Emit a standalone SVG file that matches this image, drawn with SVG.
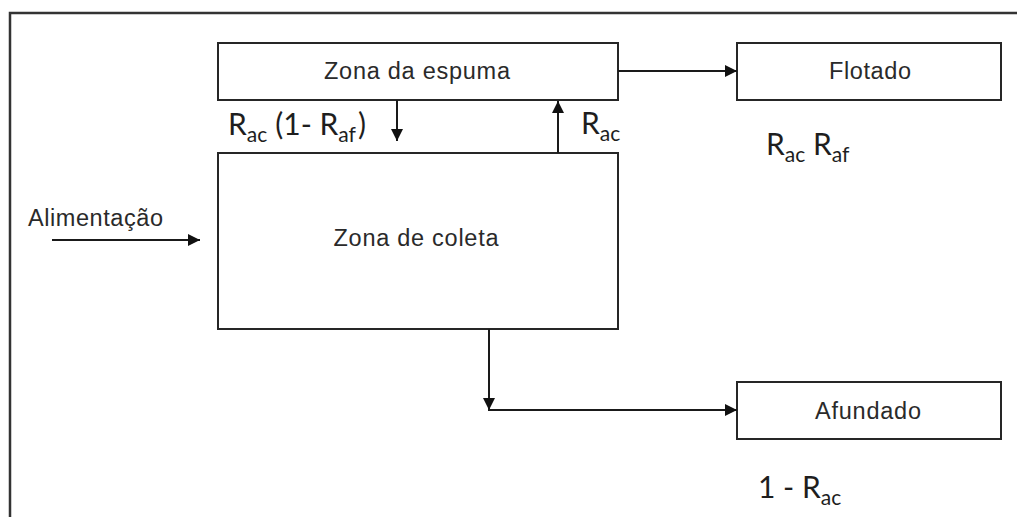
<svg xmlns="http://www.w3.org/2000/svg" width="1017" height="517" viewBox="0 0 1017 517">
  <defs>
    <style>
      .box { fill: #ffffff; stroke: #262626; stroke-width: 2; }
      .frame { fill: none; stroke: #333333; stroke-width: 2.5; }
      .wire { fill: none; stroke: #1a1a1a; stroke-width: 2; }
      .lbl { font-family: "Liberation Sans", Arial, sans-serif; font-size: 23.5px; fill: #2a2a2a; }
      .mid { text-anchor: middle; }
      .eq { font-family: Lato, "Liberation Sans", sans-serif; font-size: 30px; fill: #1e1e1e; }
      .sub { font-size: 21px; }
    </style>
    <marker id="head" viewBox="0 0 12 12" refX="12" refY="6" markerWidth="12" markerHeight="12" markerUnits="userSpaceOnUse" orient="auto">
      <path d="M0,0 L12,6 L0,12 Z" fill="#111111"/>
    </marker>
  </defs>

  <rect width="1017" height="517" fill="#ffffff"/>

  <!-- outer frame, open at right and bottom -->
  <path class="frame" d="M10,517 V13 H1017"/>

  <g id="zona-espuma">
    <rect class="box" x="218" y="43" width="400" height="57"/>
    <text class="lbl mid" x="417" y="79" textLength="186" lengthAdjust="spacing">Zona da espuma</text>
  </g>

  <g id="zona-coleta">
    <rect class="box" x="218" y="153" width="400" height="176"/>
    <text class="lbl mid" x="416" y="246" textLength="165" lengthAdjust="spacing">Zona de coleta</text>
  </g>

  <g id="flotado">
    <rect class="box" x="737" y="43" width="264" height="57"/>
    <text class="lbl mid" x="870" y="79" textLength="82" lengthAdjust="spacing">Flotado</text>
  </g>

  <g id="afundado">
    <rect class="box" x="737" y="382" width="264" height="57"/>
    <text class="lbl mid" x="868" y="419" textLength="106" lengthAdjust="spacing">Afundado</text>
  </g>

  <g id="alimentacao">
    <text class="lbl" x="28" y="226" textLength="135" lengthAdjust="spacing">Alimentação</text>
  </g>

  <g id="connectors">
    <line class="wire" x1="52" y1="240" x2="200" y2="240" marker-end="url(#head)"/>
    <line class="wire" x1="397" y1="100" x2="397" y2="141" marker-end="url(#head)"/>
    <line class="wire" x1="558" y1="153" x2="558" y2="101" marker-end="url(#head)"/>
    <line class="wire" x1="618" y1="71" x2="737" y2="71" marker-end="url(#head)"/>
    <line class="wire" x1="489" y1="329" x2="489" y2="410" marker-end="url(#head)"/>
    <line class="wire" x1="488" y1="410" x2="737" y2="410" marker-end="url(#head)"/>
  </g>

  <g id="balances">
    <text class="eq" x="228" y="135">R<tspan class="sub" dy="7">ac</tspan><tspan dx="8" dy="-7">(1- R</tspan><tspan class="sub" dy="7">af</tspan><tspan dx="2" dy="-7">)</tspan></text>
    <text class="eq" x="581" y="134">R<tspan class="sub" dy="7">ac</tspan></text>
    <text class="eq" x="766" y="155">R<tspan class="sub" dy="7">ac</tspan><tspan dy="-7"> R</tspan><tspan class="sub" dy="7">af</tspan></text>
    <text class="eq" x="758" y="498">1 - R<tspan class="sub" dy="7">ac</tspan></text>
  </g>
</svg>
